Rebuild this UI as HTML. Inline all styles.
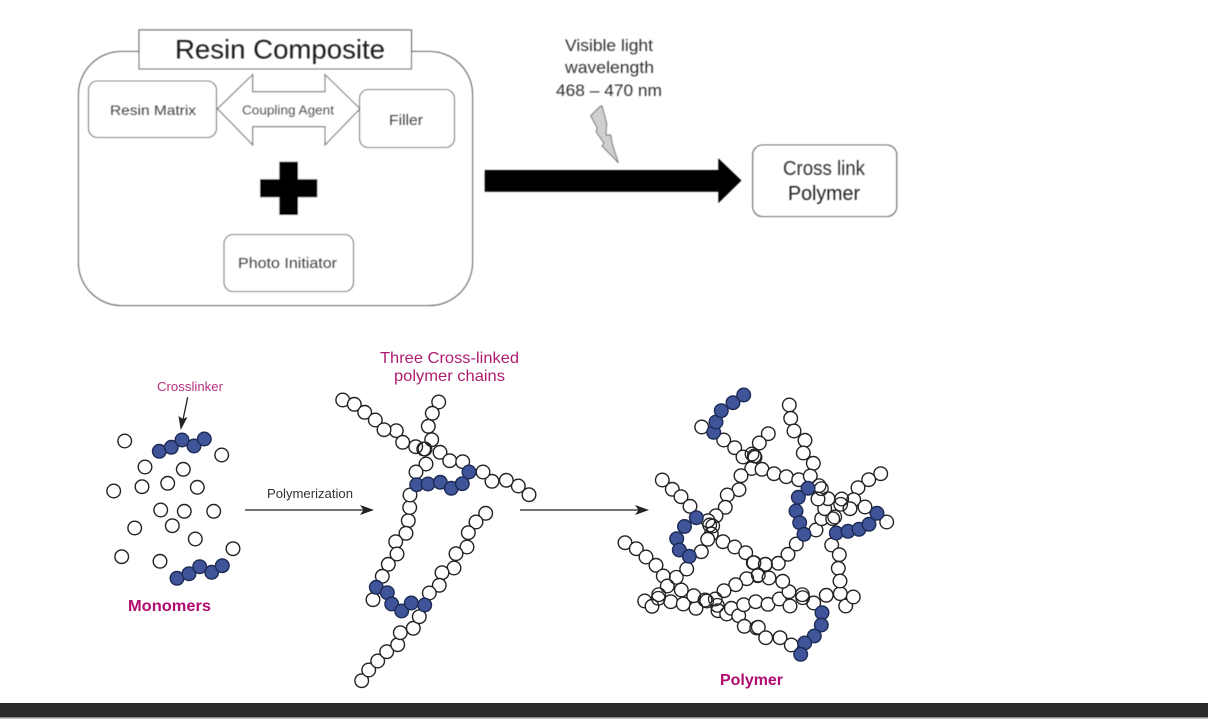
<!DOCTYPE html>
<html><head><meta charset="utf-8"><title>Resin Composite Diagram</title>
<style>
html,body{margin:0;padding:0;background:#fff;width:1208px;height:728px;overflow:hidden}
svg{display:block}
text{font-family:"Liberation Sans",sans-serif}
.w circle{fill:#fff;stroke:#222;stroke-width:1.4}
.b circle{fill:#3f5499;stroke:#1d2a55;stroke-width:1.4}
.n circle{fill:none;stroke:#222;stroke-width:1.3}
</style></head><body>
<svg width="1208" height="728" viewBox="0 0 1208 728" xmlns="http://www.w3.org/2000/svg">
<defs><filter id="s" x="-5%" y="-5%" width="110%" height="110%"><feGaussianBlur stdDeviation="0.5"/></filter>
<filter id="u" x="-5%" y="-5%" width="110%" height="110%"><feGaussianBlur stdDeviation="0.45"/></filter>
<filter id="t" x="-5%" y="-5%" width="110%" height="110%"><feGaussianBlur stdDeviation="0.3"/></filter></defs>
<rect width="1208" height="728" fill="#fff"/>

<g filter="url(#s)">
<rect x="78.5" y="51.5" width="394" height="254" rx="43" fill="#fff" stroke="#333" stroke-width="1"/>
<rect x="139" y="30" width="272.5" height="39" fill="#fff" stroke="#555" stroke-width="1.1"/>
<rect x="88.5" y="81" width="128" height="56.5" rx="9" fill="#fff" stroke="#666" stroke-width="1.1"/>
<rect x="359.5" y="89.5" width="95" height="58" rx="9" fill="#fff" stroke="#666" stroke-width="1.1"/>
<rect x="224" y="234.5" width="129.5" height="57" rx="9" fill="#fff" stroke="#666" stroke-width="1.1"/>
<polygon points="217.5,108.7 252.7,74.5 252.7,91.7 325,91.7 325,74.5 360,108.7 325,145 325,126.7 252.7,126.7 252.7,145" fill="#fff" stroke="#666" stroke-width="1.1"/>
<polygon points="279.3,161.7 298,161.7 298,179.3 317.3,179.3 317.3,197.3 298,197.3 298,215 279.3,215 279.3,197.3 260,197.3 260,179.3 279.3,179.3" fill="#000"/>
<polygon points="484.7,170 718.3,170 718.3,158.3 741.5,180.5 718.3,203.3 718.3,191.7 484.7,191.7" fill="#000"/>
<rect x="752.7" y="145" width="144" height="71.5" rx="10" fill="#fff" stroke="#555" stroke-width="1.1"/>
<polygon points="600.7,106 590.7,115.7 597.3,128.3 596,131.7 604,143.3 602,146 618.3,162.7 612.3,144 610.7,135 606,135 606.7,123.3 602,106" fill="#cfcfcf" stroke="#666" stroke-width="0.9"/>
</g>
<g filter="url(#u)">
<text x="175" y="58.5" font-size="27" fill="#1a1a1a" textLength="210" lengthAdjust="spacingAndGlyphs">Resin Composite</text>
<text x="110" y="115" font-size="14" fill="#444" textLength="86" lengthAdjust="spacingAndGlyphs">Resin Matrix</text>
<text x="242" y="114.5" font-size="12.5" fill="#555" textLength="92" lengthAdjust="spacingAndGlyphs">Coupling Agent</text>
<text x="389" y="125" font-size="14.5" fill="#444" textLength="34" lengthAdjust="spacingAndGlyphs">Filler</text>
<text x="238" y="268" font-size="14.5" fill="#444" textLength="99" lengthAdjust="spacingAndGlyphs">Photo Initiator</text>
<text x="565" y="51" font-size="17" fill="#333" textLength="88" lengthAdjust="spacingAndGlyphs">Visible light</text>
<text x="565" y="73" font-size="17" fill="#333" textLength="89" lengthAdjust="spacingAndGlyphs">wavelength</text>
<text x="556" y="96" font-size="17" fill="#333" textLength="106" lengthAdjust="spacingAndGlyphs">468 – 470 nm</text>
<text x="783" y="175" font-size="20" fill="#333" textLength="82" lengthAdjust="spacingAndGlyphs">Cross link</text>
<text x="788" y="200" font-size="20" fill="#222" textLength="72" lengthAdjust="spacingAndGlyphs">Polymer</text>
</g>
<g filter="url(#t)">
<text x="157" y="391" font-size="12.5" fill="#b5307f" textLength="66" lengthAdjust="spacingAndGlyphs">Crosslinker</text>
<text x="267" y="498" font-size="13" fill="#333" textLength="86" lengthAdjust="spacingAndGlyphs">Polymerization</text>
<text x="128" y="611" font-size="15.5" font-weight="bold" fill="#b0076f" textLength="83" lengthAdjust="spacingAndGlyphs">Monomers</text>
<text x="380" y="363" font-size="16" fill="#ad1f70" textLength="139" lengthAdjust="spacingAndGlyphs">Three Cross-linked</text>
<text x="394" y="381" font-size="16" fill="#ad1f70" textLength="111" lengthAdjust="spacingAndGlyphs">polymer chains</text>
<text x="720" y="685" font-size="15.5" font-weight="bold" fill="#b0076f" textLength="63" lengthAdjust="spacingAndGlyphs">Polymer</text>

<line x1="187.7" y1="397.3" x2="182.5" y2="422" stroke="#222" stroke-width="1.3"/>
<polygon points="180.7,430 178.5,416 182.8,419 187.5,417" fill="#222"/>
<line x1="245" y1="510" x2="365" y2="510" stroke="#222" stroke-width="1.3"/>
<polygon points="374,510 360,505 363.5,510 360,515" fill="#222"/>
<line x1="520" y1="510" x2="640" y2="510" stroke="#222" stroke-width="1.3"/>
<polygon points="649,510 635,505 638.5,510 635,515" fill="#222"/>
</g>

<g filter="url(#t)">
<!-- monomers -->
<g class="w">
<circle cx="124.7" cy="441" r="6.8"/><circle cx="221.7" cy="455" r="6.8"/><circle cx="145" cy="467" r="6.8"/><circle cx="183.3" cy="469.3" r="6.8"/><circle cx="142" cy="486.7" r="6.8"/><circle cx="167.7" cy="483.3" r="6.8"/><circle cx="197.3" cy="487.3" r="6.8"/><circle cx="113.7" cy="491" r="6.8"/><circle cx="160.7" cy="510" r="6.8"/><circle cx="184.3" cy="511.3" r="6.8"/><circle cx="213.7" cy="511.3" r="6.8"/><circle cx="134.7" cy="528" r="6.8"/><circle cx="172.3" cy="525.7" r="6.8"/><circle cx="195.3" cy="539" r="6.8"/><circle cx="233" cy="548.7" r="6.8"/><circle cx="121.7" cy="556.7" r="6.8"/><circle cx="160" cy="561.3" r="6.8"/>
</g>
<g class="b">
<circle cx="159.3" cy="451.3" r="6.8"/><circle cx="171.3" cy="447.3" r="6.8"/><circle cx="194" cy="446" r="6.8"/><circle cx="182" cy="440" r="6.8"/><circle cx="204.3" cy="439" r="6.8"/>
<circle cx="177" cy="578.3" r="6.8"/><circle cx="189" cy="573.7" r="6.8"/><circle cx="211.7" cy="572.3" r="6.8"/><circle cx="199.7" cy="566.7" r="6.8"/><circle cx="222.3" cy="565.7" r="6.8"/>
</g>

<!-- three chains -->
<g class="w">
<circle cx="342.7" cy="400" r="6.8"/><circle cx="354.3" cy="404.3" r="6.8"/><circle cx="364.7" cy="412.3" r="6.8"/><circle cx="375.3" cy="420" r="6.8"/><circle cx="396.3" cy="430.7" r="6.8"/><circle cx="384" cy="429.7" r="6.8"/><circle cx="402.7" cy="442.3" r="6.8"/><circle cx="415.7" cy="446.7" r="6.8"/>
<circle cx="438.7" cy="402" r="6.8"/><circle cx="432.3" cy="413.3" r="6.8"/><circle cx="428.3" cy="426.3" r="6.8"/><circle cx="431.7" cy="439.7" r="6.8"/>
<circle cx="440" cy="452.3" r="6.8"/><circle cx="449.7" cy="460.7" r="6.8"/><circle cx="462.7" cy="461.7" r="6.8"/>
<circle cx="529" cy="494.7" r="6.8"/><circle cx="518.3" cy="486" r="6.8"/><circle cx="506.3" cy="480.3" r="6.8"/><circle cx="492" cy="481.3" r="6.8"/><circle cx="483" cy="472" r="6.8"/>
<circle cx="426" cy="464" r="6.8"/><circle cx="416" cy="472" r="6.8"/>
<circle cx="408.3" cy="520.7" r="6.8"/><circle cx="409.7" cy="507.5" r="6.8"/><circle cx="410" cy="495" r="6.8"/>
<circle cx="406" cy="533.3" r="6.8"/><circle cx="395.7" cy="541.7" r="6.8"/><circle cx="397" cy="554" r="6.8"/><circle cx="388.3" cy="564.3" r="6.8"/><circle cx="382.3" cy="576.3" r="6.8"/><circle cx="373" cy="599.7" r="6.8"/>
<circle cx="485.7" cy="513.3" r="6.8"/><circle cx="476" cy="522" r="6.8"/><circle cx="468.3" cy="532.7" r="6.8"/><circle cx="467" cy="547" r="6.8"/><circle cx="456" cy="553.7" r="6.8"/><circle cx="454" cy="568" r="6.8"/><circle cx="442" cy="572.7" r="6.8"/><circle cx="439.3" cy="585.3" r="6.8"/><circle cx="429.3" cy="593" r="6.8"/>
<circle cx="361.7" cy="680.7" r="6.8"/><circle cx="368.7" cy="670" r="6.8"/><circle cx="377.7" cy="661" r="6.8"/><circle cx="386.7" cy="651.7" r="6.8"/><circle cx="397.7" cy="644.7" r="6.8"/><circle cx="400.3" cy="632.7" r="6.8"/><circle cx="413.3" cy="628.3" r="6.8"/><circle cx="419.3" cy="616.7" r="6.8"/>
</g>
<g class="n"><circle cx="425" cy="449" r="6.8"/><circle cx="423.7" cy="449" r="6.8"/></g>
<g class="b">
<circle cx="469" cy="472" r="6.8"/><circle cx="416.7" cy="484.7" r="6.8"/><circle cx="428" cy="484" r="6.8"/><circle cx="440.3" cy="482.3" r="6.8"/><circle cx="451.3" cy="488.3" r="6.8"/><circle cx="462.3" cy="483.7" r="6.8"/>
<circle cx="376.3" cy="587.3" r="6.8"/><circle cx="387.3" cy="592.7" r="6.8"/><circle cx="391.7" cy="604" r="6.8"/><circle cx="401.7" cy="611" r="6.8"/><circle cx="411.3" cy="603" r="6.8"/><circle cx="424.7" cy="605" r="6.8"/>
</g>

<!-- polymer -->
<g class="w">
<circle cx="701.7" cy="427" r="6.8"/><circle cx="723.7" cy="440" r="6.8"/><circle cx="734.7" cy="447.7" r="6.8"/><circle cx="743" cy="457" r="6.8"/>
<circle cx="768.3" cy="433.7" r="6.8"/><circle cx="759.3" cy="443" r="6.8"/><circle cx="755" cy="457.3" r="6.8"/>
<circle cx="751.7" cy="468.5" r="6.8"/><circle cx="762" cy="469.3" r="6.8"/><circle cx="774" cy="473.7" r="6.8"/><circle cx="786.3" cy="476.7" r="6.8"/><circle cx="798.7" cy="479.7" r="6.8"/>
<circle cx="789.3" cy="405" r="6.8"/><circle cx="790.7" cy="418.3" r="6.8"/><circle cx="794" cy="431" r="6.8"/><circle cx="805" cy="440.3" r="6.8"/><circle cx="803.3" cy="453" r="6.8"/><circle cx="813.3" cy="463.3" r="6.8"/><circle cx="810.3" cy="476" r="6.8"/>
<circle cx="662.3" cy="480" r="6.8"/><circle cx="672.3" cy="489.3" r="6.8"/><circle cx="681" cy="496.7" r="6.8"/><circle cx="690" cy="506.3" r="6.8"/>
<circle cx="741" cy="475.7" r="6.8"/><circle cx="739" cy="489.7" r="6.8"/><circle cx="727.3" cy="495" r="6.8"/><circle cx="725.3" cy="507.3" r="6.8"/><circle cx="716" cy="515.7" r="6.8"/><circle cx="708" cy="520.7" r="6.8"/>
<circle cx="711.3" cy="534" r="6.8"/><circle cx="707.7" cy="539.3" r="6.8"/><circle cx="701.3" cy="551.7" r="6.8"/><circle cx="686.7" cy="569" r="6.8"/>
<circle cx="723" cy="541.7" r="6.8"/><circle cx="734.7" cy="547" r="6.8"/><circle cx="745.7" cy="552.7" r="6.8"/><circle cx="753.3" cy="562.7" r="6.8"/><circle cx="765.3" cy="564.3" r="6.8"/><circle cx="778.3" cy="563.3" r="6.8"/><circle cx="788" cy="554.3" r="6.8"/><circle cx="796.3" cy="544" r="6.8"/>
<circle cx="816" cy="530" r="6.8"/><circle cx="821.7" cy="518.7" r="6.8"/><circle cx="832.7" cy="518.7" r="6.8"/><circle cx="824.7" cy="508.7" r="6.8"/><circle cx="828" cy="498.7" r="6.8"/><circle cx="818" cy="499" r="6.8"/>
<circle cx="880.7" cy="473.7" r="6.8"/><circle cx="868.7" cy="479.7" r="6.8"/><circle cx="858" cy="487.7" r="6.8"/><circle cx="853.7" cy="499.7" r="6.8"/><circle cx="865" cy="507" r="6.8"/><circle cx="850" cy="508.7" r="6.8"/>
<circle cx="886.7" cy="522" r="6.8"/>
<circle cx="625" cy="542.7" r="6.8"/><circle cx="636.3" cy="548.7" r="6.8"/><circle cx="646" cy="557" r="6.8"/><circle cx="656" cy="565.3" r="6.8"/><circle cx="663.3" cy="576" r="6.8"/><circle cx="667.3" cy="586" r="6.8"/>
<circle cx="644.7" cy="601" r="6.8"/><circle cx="652" cy="606.3" r="6.8"/><circle cx="670.7" cy="601.7" r="6.8"/><circle cx="683.3" cy="604" r="6.8"/><circle cx="696" cy="608.3" r="6.8"/><circle cx="693.7" cy="595.7" r="6.8"/><circle cx="681.3" cy="590" r="6.8"/>
<circle cx="757.7" cy="575.7" r="6.8"/><circle cx="746.7" cy="578.7" r="6.8"/><circle cx="735.7" cy="584.7" r="6.8"/><circle cx="724" cy="590.7" r="6.8"/>
<circle cx="718" cy="610.7" r="6.8"/><circle cx="726.7" cy="614" r="6.8"/><circle cx="731.3" cy="608.3" r="6.8"/><circle cx="738.7" cy="615.7" r="6.8"/><circle cx="743.7" cy="604.7" r="6.8"/><circle cx="755.7" cy="601.7" r="6.8"/><circle cx="768" cy="604.3" r="6.8"/><circle cx="779.3" cy="599" r="6.8"/><circle cx="790" cy="606" r="6.8"/><circle cx="789" cy="591.7" r="6.8"/><circle cx="782.7" cy="581.3" r="6.8"/><circle cx="769" cy="578" r="6.8"/>
<circle cx="744.3" cy="626.3" r="6.8"/><circle cx="756.7" cy="628" r="6.8"/><circle cx="758.3" cy="627.3" r="6.8"/><circle cx="765.7" cy="637.7" r="6.8"/><circle cx="780" cy="637.7" r="6.8"/><circle cx="791.3" cy="645" r="6.8"/>
<circle cx="813.7" cy="603" r="6.8"/><circle cx="826.3" cy="595.3" r="6.8"/><circle cx="840.3" cy="593.7" r="6.8"/><circle cx="845.7" cy="606" r="6.8"/><circle cx="853.3" cy="597" r="6.8"/>
<circle cx="831.7" cy="545" r="6.8"/><circle cx="839.3" cy="554.7" r="6.8"/><circle cx="838.3" cy="568.3" r="6.8"/><circle cx="840" cy="581" r="6.8"/>
</g>
<g class="n">
<circle cx="752" cy="454" r="6.8"/><circle cx="754.3" cy="456" r="6.8"/>
<circle cx="819" cy="485.7" r="6.8"/><circle cx="821.3" cy="488.7" r="6.8"/>
<circle cx="834.7" cy="517" r="6.8"/><circle cx="841.7" cy="499" r="6.8"/><circle cx="840.7" cy="504.3" r="6.8"/>
<circle cx="709.7" cy="525" r="6.8"/><circle cx="712.7" cy="526" r="6.8"/>
<circle cx="676.3" cy="577.3" r="6.8"/>
<circle cx="658.7" cy="594.7" r="6.8"/><circle cx="658.3" cy="598.3" r="6.8"/>
<circle cx="705" cy="600" r="6.8"/><circle cx="706.7" cy="601" r="6.8"/><circle cx="715.3" cy="599" r="6.8"/><circle cx="717.3" cy="605.3" r="6.8"/>
<circle cx="758.3" cy="575" r="6.8"/><circle cx="754" cy="562.7" r="6.8"/><circle cx="765.5" cy="564.3" r="6.8"/>
<circle cx="802.3" cy="594.7" r="6.8"/><circle cx="802.7" cy="597.7" r="6.8"/>
</g>
<g class="b">
<circle cx="713.7" cy="432.3" r="6.8"/><circle cx="716" cy="422" r="6.8"/><circle cx="721.3" cy="410.7" r="6.8"/><circle cx="733" cy="402.7" r="6.8"/><circle cx="743.7" cy="395" r="6.8"/>
<circle cx="808" cy="488.3" r="6.8"/><circle cx="798.3" cy="497.3" r="6.8"/><circle cx="796" cy="511" r="6.8"/><circle cx="799.7" cy="522.7" r="6.8"/><circle cx="804" cy="534.3" r="6.8"/>
<circle cx="836.3" cy="533" r="6.8"/><circle cx="848" cy="531.3" r="6.8"/><circle cx="859" cy="529.3" r="6.8"/><circle cx="869" cy="524.3" r="6.8"/><circle cx="877" cy="513.3" r="6.8"/>
<circle cx="696.3" cy="517.7" r="6.8"/><circle cx="684.5" cy="526.5" r="6.8"/><circle cx="676.7" cy="538.7" r="6.8"/><circle cx="679.3" cy="550" r="6.8"/><circle cx="689.3" cy="556.3" r="6.8"/>
<circle cx="822" cy="612.7" r="6.8"/><circle cx="821.3" cy="625" r="6.8"/><circle cx="814.3" cy="636" r="6.8"/><circle cx="804.7" cy="643" r="6.8"/><circle cx="800.7" cy="654.3" r="6.8"/>
</g>
</g>

<rect x="0" y="703" width="1208" height="14.3" fill="#2a2a2a"/>
<rect x="0" y="717.3" width="1208" height="1.2" fill="#8a8a8a"/>
</svg>
</body></html>
